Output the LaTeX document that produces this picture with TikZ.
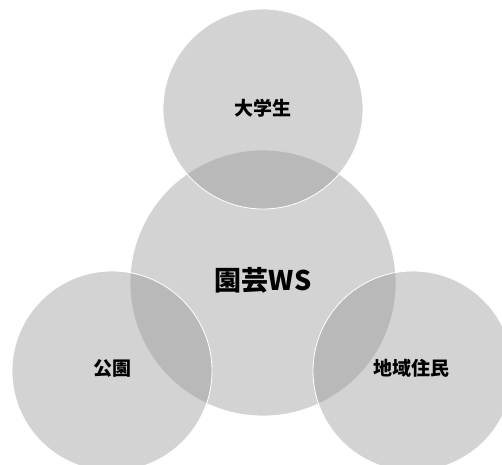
\documentclass[tikz,border=0pt]{standalone}
\usepackage{fontspec}
\newfontfamily\cjk{Noto Sans CJK JP}
\begin{document}
\begin{tikzpicture}[x=1pt,y=-1pt,
  blob/.style={circle,fill={rgb,255:red,148;green,148;blue,148},fill opacity=0.41,draw=white,line width=0.8pt,inner sep=0pt},
  lab/.style={font=\cjk\bfseries\fontsize{19}{21}\selectfont,text=black},
  biglab/.style={font=\cjk\bfseries\fontsize{27}{31}\selectfont,text=black}]
\useasboundingbox (0,0) rectangle (502,464);
\node[blob,minimum size=266pt] (ws) at (263,283) {};
\node[blob,minimum size=200pt] (uni) at (263,109) {};
\node[blob,minimum size=200pt] (park) at (112,371) {};
\node[blob,minimum size=200pt] (res) at (413,371) {};
\node[biglab] (wsl) at (263,280) {園芸WS};
\node[lab] (unil) at (263,108) {大学生};
\node[lab] (parkl) at (112,368) {公園};
\node[lab] (resl) at (411,368) {地域住民};
\end{tikzpicture}
\end{document}
